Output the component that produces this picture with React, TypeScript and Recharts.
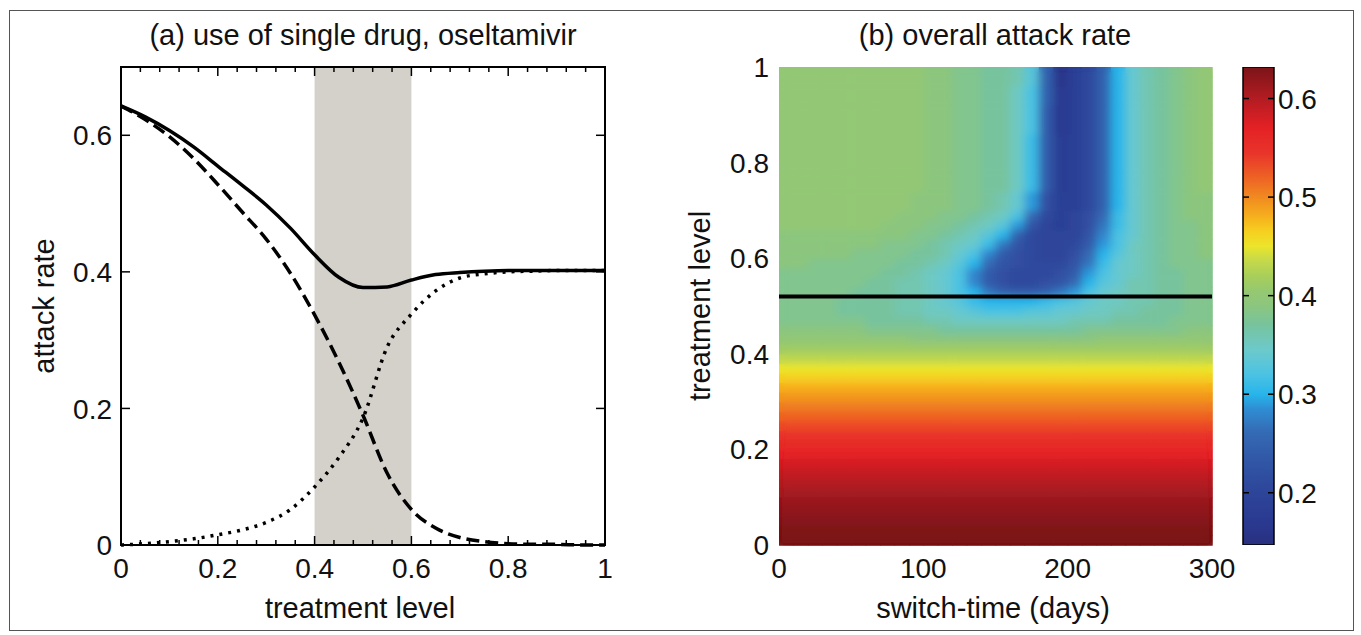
import React from "react";
import {
  ComposedChart,
  BarChart,
  Bar,
  Line,
  XAxis,
  YAxis,
  ReferenceArea,
  ScatterChart,
  Scatter,
} from "recharts";

// ---- panel (a): attack rate vs treatment level ----
const treatment = [0, 0.05, 0.1, 0.15, 0.2, 0.25, 0.3, 0.35, 0.4, 0.45, 0.5, 0.55, 0.6, 0.65, 0.7, 0.75, 0.8, 0.85, 0.9, 0.95, 1];
const totalAttack = [0.643, 0.627, 0.607, 0.583, 0.555, 0.527, 0.498, 0.464, 0.425, 0.392, 0.377, 0.378, 0.388, 0.396, 0.399, 0.401, 0.402, 0.402, 0.402, 0.402, 0.402];
const sensitiveAttack = [0.643, 0.623, 0.598, 0.566, 0.528, 0.488, 0.448, 0.398, 0.337, 0.268, 0.19, 0.105, 0.052, 0.025, 0.011, 0.005, 0.002, 0.001, 0.001, 0, 0];
const resistantAttack = [0, 0.002, 0.005, 0.009, 0.015, 0.022, 0.033, 0.052, 0.085, 0.128, 0.186, 0.29, 0.338, 0.372, 0.391, 0.397, 0.4, 0.401, 0.402, 0.402, 0.402];
const xTicksA = [0, 0.04, 0.08, 0.12, 0.16, 0.2, 0.24, 0.28, 0.32, 0.36, 0.4, 0.44, 0.48, 0.52, 0.56, 0.6, 0.64, 0.68, 0.72, 0.76, 0.8, 0.84, 0.88, 0.92, 0.96, 1];
const yTicksA = [0, 0.2, 0.4, 0.6];
const shadeFrom = 0.4;
const shadeTo = 0.6;

// ---- panel (b): overall attack rate heat map ----
const switchDays = [5, 15, 25, 35, 45, 55, 65, 75, 85, 95, 105, 115, 125, 135, 145, 155, 165, 175, 185, 195, 205, 215, 225, 235, 245, 255, 265, 275, 285, 295];
// lower rows do not depend on switch-time
const lowLevels = [0.01, 0.03, 0.05, 0.07, 0.09, 0.11, 0.13, 0.15, 0.17, 0.19, 0.21, 0.23, 0.25, 0.27, 0.29, 0.31, 0.33, 0.35, 0.37, 0.39, 0.41];
const lowRates = [0.632, 0.63, 0.626, 0.621, 0.615, 0.608, 0.6, 0.591, 0.581, 0.57, 0.558, 0.546, 0.533, 0.52, 0.507, 0.494, 0.481, 0.466, 0.45, 0.432, 0.414];
// upper rows, attack rate in hundredths, one entry per switch-time column
const highLevels = [0.43, 0.45, 0.47, 0.49, 0.51, 0.53, 0.55, 0.57, 0.59, 0.61, 0.63, 0.65, 0.67, 0.69, 0.71, 0.73, 0.75, 0.77, 0.79, 0.81, 0.83, 0.85, 0.87, 0.89, 0.91, 0.93, 0.95, 0.97, 0.99];
const highRates = [
  "40 40 40 40 40 40 40 40 40 39 39 39 39 39 39 39 39 39 39 39 39 39 40 40 40 40 40 40 40 40",
  "39 39 39 39 39 39 38 38 38 38 38 37 37 37 37 37 37 37 37 37 37 38 38 38 38 38 38 38 39 39",
  "38 38 38 38 38 38 37 37 37 37 36 36 35 35 35 35 35 35 35 35 36 36 36 37 37 37 37 38 38 38",
  "38 38 38 38 37 37 37 37 36 36 35 35 34 33 32 32 32 33 33 34 34 35 35 36 36 37 37 37 38 38",
  "38 38 38 38 37 37 37 37 36 36 35 34 33 31 30 30 30 30 31 32 33 34 35 35 36 36 37 37 38 38",
  "38 38 38 38 38 37 37 37 36 36 35 34 32 30 27 25 24 24 25 27 29 32 34 35 36 36 37 37 38 38",
  "38 38 38 38 38 38 37 37 36 36 35 34 32 28 24 22 21 21 22 23 26 30 33 34 36 36 37 37 38 38",
  "38 38 38 38 38 38 38 37 37 36 35 34 32 28 24 22 21 21 21 22 24 29 32 34 35 36 37 37 38 38",
  "39 39 38 38 38 38 38 38 37 37 36 35 33 30 26 23 22 21 21 21 23 27 31 34 35 36 37 38 38 38",
  "39 39 39 39 39 38 38 38 38 37 37 36 34 32 28 24 22 21 20 20 22 26 30 33 35 36 37 38 38 39",
  "39 39 39 39 39 39 39 38 38 38 37 36 35 34 31 27 23 21 20 20 21 24 29 32 35 36 37 38 38 39",
  "39 39 39 39 39 39 39 39 39 38 38 37 36 35 33 30 25 21 20 20 20 23 28 32 34 36 37 38 38 39",
  "40 40 40 40 40 40 40 39 39 39 38 38 37 36 35 33 29 23 20 19 20 22 27 31 34 36 37 38 38 39",
  "40 40 40 40 40 40 40 40 39 39 39 38 38 37 36 35 32 26 21 19 20 22 26 31 34 36 37 38 39 39",
  "40 40 40 40 40 40 40 40 40 39 39 39 38 38 37 36 34 29 22 19 19 21 25 30 34 36 37 38 39 39",
  "40 40 40 40 40 40 40 40 40 39 39 39 38 38 37 36 34 29 22 19 19 21 25 30 34 36 37 38 39 39",
  "40 40 40 40 40 40 40 40 40 40 39 39 38 38 37 37 35 31 24 18 19 21 25 30 34 36 37 38 39 40",
  "40 40 40 40 40 40 40 40 40 40 39 39 38 38 37 37 35 31 24 18 19 21 25 30 34 36 37 38 39 40",
  "40 40 40 40 40 40 40 40 40 40 39 39 38 38 37 37 35 31 24 18 19 21 25 30 34 36 37 38 39 40",
  "40 40 40 40 40 40 40 40 40 40 39 39 38 38 37 37 35 31 24 18 19 21 25 30 34 36 37 38 39 40",
  "40 40 40 40 40 40 40 40 40 40 39 39 38 38 37 37 35 31 24 18 19 21 25 30 34 36 37 38 39 40",
  "40 40 40 40 40 40 40 40 40 40 39 39 38 38 37 37 35 31 24 18 19 21 25 30 34 36 37 38 39 40",
  "40 40 40 40 40 40 40 40 40 40 39 39 38 38 37 37 35 32 24 17 19 21 25 30 34 36 37 38 39 40",
  "40 40 40 40 40 40 40 40 40 40 39 39 38 38 37 37 35 32 24 17 19 21 25 30 34 36 37 38 39 40",
  "40 40 40 40 40 40 40 40 40 40 39 39 38 38 37 37 35 32 24 17 19 21 25 30 34 36 37 38 39 40",
  "40 40 40 40 40 40 40 40 40 40 39 39 38 38 37 37 35 32 25 17 19 21 25 30 34 36 37 38 39 40",
  "40 40 40 40 40 40 40 40 40 40 39 39 38 38 37 37 35 32 25 17 19 21 25 30 34 36 37 38 39 40",
  "40 40 40 40 40 40 40 40 40 40 39 39 38 38 37 37 36 33 25 16 19 21 25 30 34 36 37 38 39 40",
  "40 40 40 40 40 40 40 40 40 40 39 39 38 38 37 37 36 33 25 16 19 21 25 30 34 36 37 38 39 40",
];
const xTicksB = [0, 100, 200, 300];
const yTicksB = [0, 0.2, 0.4, 0.6, 0.8, 1];
const switchLevel = 0.52;

// colour bar
const colorMin = 0.147;
const colorMax = 0.632;
const colorTicks = [0.2, 0.3, 0.4, 0.5, 0.6];
const cmapStops = [0.147, 0.17, 0.2, 0.23, 0.26, 0.285, 0.3, 0.32, 0.345, 0.37, 0.39, 0.405, 0.42, 0.437, 0.45, 0.465, 0.48, 0.5, 0.52, 0.545, 0.57, 0.6, 0.632];
const cmapColors = ["#29307f", "#2a3990", "#2d4599", "#3155a5", "#3469b3", "#2f8dd3", "#27b5ea", "#4cc2e3", "#6ccacb", "#77c39e", "#8cc67e", "#96c870", "#a8cf5a", "#c8da48", "#ebe52b", "#f5d020", "#f6b01d", "#f08a20", "#ee6224", "#e8342a", "#e42125", "#b21c22", "#7b1418"];

const FONT = "'Liberation Sans', Arial, Helvetica, sans-serif";
const A = { left: 121, right: 605, top: 67, bottom: 545 };
const B = { left: 779, right: 1212, top: 67, bottom: 545 };
const CB = { left: 43, right: 74 };

const lineData = treatment.map((t, i) => ({
  t,
  total: totalAttack[i],
  sensitive: sensitiveAttack[i],
  resistant: resistantAttack[i],
}));

const heatCells: { x: number; y: number; v: number }[] = [];
lowLevels.forEach((lvl, i) => {
  switchDays.forEach((d) => heatCells.push({ x: d, y: lvl, v: lowRates[i] }));
});
highLevels.forEach((lvl, i) => {
  highRates[i].split(" ").forEach((s, j) => heatCells.push({ x: switchDays[j], y: lvl, v: Number(s) / 100 }));
});

const switchLine = [
  { x: 0, y: switchLevel },
  { x: 300, y: switchLevel },
];
const colorBarData = [{ k: "cb", range: [colorMin, colorMax] }];

const hexToRgb = (h: string) => [1, 3, 5].map((k) => parseInt(h.slice(k, k + 2), 16));
const cmapRgb = cmapColors.map(hexToRgb);

function colorOf(v: number) {
  if (v <= cmapStops[0]) return cmapColors[0];
  for (let i = 1; i < cmapStops.length; i++) {
    if (v <= cmapStops[i]) {
      const f = (v - cmapStops[i - 1]) / (cmapStops[i] - cmapStops[i - 1]);
      const a = cmapRgb[i - 1];
      const b = cmapRgb[i];
      const c = a.map((ch, k) => Math.round(ch + (b[k] - ch) * f));
      return `rgb(${c[0]},${c[1]},${c[2]})`;
    }
  }
  return cmapColors[cmapColors.length - 1];
}

const cellW = (B.right - B.left) / switchDays.length;
const cellH = (B.bottom - B.top) / (lowLevels.length + highLevels.length);

const HeatCell = (props: any) => {
  const { cx, cy, payload } = props;
  return (
    <rect
      x={cx - cellW / 2}
      y={cy - cellH / 2}
      width={cellW + 0.6}
      height={cellH + 0.6}
      fill={colorOf(payload.v)}
    />
  );
};

const NoDot = () => <g />;

const fmt = (v: number) => (v === 0 ? "0" : v === 1 ? "1" : String(v));
const tickText = { fontSize: 28, fontFamily: FONT, fill: "#111" };

const XTickA = (props: any) => {
  const { x, y, payload } = props;
  const v = payload.value;
  const major = Math.abs(v * 5 - Math.round(v * 5)) < 1e-6;
  const len = major ? 9 : 5;
  return (
    <g>
      <line x1={x} x2={x} y1={A.bottom} y2={A.bottom - len} stroke="#000" strokeWidth={1.5} />
      <line x1={x} x2={x} y1={A.top} y2={A.top + len} stroke="#000" strokeWidth={1.5} />
      {major && (
        <text x={x} y={y} dy="0.71em" textAnchor="middle" {...tickText}>
          {fmt(v)}
        </text>
      )}
    </g>
  );
};

const YTickA = (props: any) => {
  const { x, y, payload } = props;
  return (
    <g>
      <line x1={A.left} x2={A.left + 9} y1={y} y2={y} stroke="#000" strokeWidth={1.5} />
      <line x1={A.right} x2={A.right - 9} y1={y} y2={y} stroke="#000" strokeWidth={1.5} />
      <text x={x} y={y} dy="0.36em" textAnchor="end" {...tickText}>
        {fmt(payload.value)}
      </text>
    </g>
  );
};

const XTickB = (props: any) => {
  const { x, y, payload } = props;
  return (
    <text x={x} y={y} dy="0.71em" textAnchor="middle" {...tickText}>
      {payload.value}
    </text>
  );
};

const YTickB = (props: any) => {
  const { x, y, payload } = props;
  return (
    <text x={x} y={y} dy="0.36em" textAnchor="end" {...tickText}>
      {fmt(payload.value)}
    </text>
  );
};

const CbTick = (props: any) => {
  const { x, y, payload } = props;
  return (
    <g>
      <line x1={CB.left} x2={CB.left + 6} y1={y} y2={y} stroke="#000" strokeWidth={1.5} />
      <line x1={CB.right} x2={CB.right - 6} y1={y} y2={y} stroke="#000" strokeWidth={1.5} />
      <text x={x} y={y} dy="0.36em" textAnchor="start" {...tickText}>
        {payload.value.toFixed(1)}
      </text>
    </g>
  );
};

const label = (left: number, top: number, text: string, rotate = false) => (
  <div
    style={{
      position: "absolute",
      left,
      top,
      fontSize: 29,
      fontFamily: FONT,
      color: "#111",
      whiteSpace: "nowrap",
      lineHeight: 1,
      transform: `translate(-50%, -50%)${rotate ? " rotate(-90deg)" : ""}`,
    }}
  >
    {text}
  </div>
);

export default function App() {
  return (
    <div style={{ position: "absolute", left: 0, top: 0, width: 1361, height: 635, background: "#fff", overflow: "hidden" }}>
      <style>{`.heat { filter: url(#heatBlur); }`}</style>
      <svg width={0} height={0} style={{ position: "absolute" }}>
        <defs>
          {/* smooth the cell grid like the shaded image, keeping the edges crisp */}
          <filter id="heatBlur" x="0" y="0" width="1" height="1">
            <feGaussianBlur in="SourceGraphic" stdDeviation="5 3.5" result="soft" />
            <feMerge>
              <feMergeNode in="SourceGraphic" />
              <feMergeNode in="soft" />
            </feMerge>
          </filter>
          <linearGradient id="cbar" x1="0" y1="1" x2="0" y2="0">
            {cmapStops.map((s, i) => (
              <stop key={i} offset={(s - colorMin) / (colorMax - colorMin)} stopColor={cmapColors[i]} />
            ))}
          </linearGradient>
        </defs>
      </svg>

      <div
        style={{
          position: "absolute",
          left: 9,
          top: 10,
          width: 1345,
          height: 621,
          border: "1.5px solid #555",
          boxSizing: "border-box",
        }}
      />

      {/* (a) */}
      <div style={{ position: "absolute", left: 0, top: 0 }}>
        <ComposedChart width={680} height={635} data={lineData} margin={{ top: 67, right: 75, bottom: 50, left: 71 }}>
          <ReferenceArea x1={shadeFrom} x2={shadeTo} y1={0} y2={0.7} fill="#d4d1ca" fillOpacity={1} stroke="none" />
          <XAxis
            dataKey="t"
            type="number"
            domain={[0, 1]}
            ticks={xTicksA}
            interval={0}
            height={40}
            tickSize={0}
            tickMargin={13}
            axisLine={false}
            tickLine={false}
            tick={<XTickA />}
          />
          <YAxis
            type="number"
            domain={[0, 0.7]}
            ticks={yTicksA}
            width={50}
            tickSize={0}
            tickMargin={9}
            axisLine={false}
            tickLine={false}
            tick={<YTickA />}
          />
          <Line type="monotone" dataKey="resistant" stroke="#000" strokeWidth={3.5} strokeDasharray="3 6" dot={false} isAnimationActive={false} />
          <Line type="monotone" dataKey="sensitive" stroke="#000" strokeWidth={3.5} strokeDasharray="13 6" dot={false} isAnimationActive={false} />
          <Line type="monotone" dataKey="total" stroke="#000" strokeWidth={3.5} dot={false} isAnimationActive={false} />
          <ReferenceArea x1={0} x2={1} y1={0} y2={0.7} fill="none" stroke="#000" strokeWidth={2} />
        </ComposedChart>
      </div>

      {/* (b) */}
      <div style={{ position: "absolute", left: 680, top: 0 }}>
        <ScatterChart width={681} height={635} margin={{ top: 67, right: 149, bottom: 50, left: 39 }}>
          <XAxis
            dataKey="x"
            type="number"
            domain={[0, 300]}
            ticks={xTicksB}
            interval={0}
            height={40}
            tickSize={0}
            tickMargin={13}
            axisLine={false}
            tickLine={false}
            tick={<XTickB />}
          />
          <YAxis
            dataKey="y"
            type="number"
            domain={[0, 1]}
            ticks={yTicksB}
            width={60}
            tickSize={0}
            tickMargin={10}
            axisLine={false}
            tickLine={false}
            tick={<YTickB />}
          />
          <Scatter className="heat" data={heatCells} shape={<HeatCell />} isAnimationActive={false} />
          <Scatter data={switchLine} shape={<NoDot />} line={{ stroke: "#000", strokeWidth: 4 }} isAnimationActive={false} />
        </ScatterChart>
      </div>

      {/* colour bar */}
      <div style={{ position: "absolute", left: 1200, top: 0 }}>
        <BarChart
          width={161}
          height={635}
          data={colorBarData}
          barCategoryGap={0}
          margin={{ top: 67, right: 27, bottom: 90, left: 43 }}
        >
          <XAxis dataKey="k" hide height={0} />
          <YAxis
            orientation="right"
            type="number"
            domain={[colorMin, colorMax]}
            ticks={colorTicks}
            width={60}
            tickSize={0}
            tickMargin={4}
            axisLine={false}
            tickLine={false}
            tick={<CbTick />}
            allowDataOverflow
          />
          <Bar dataKey="range" fill="url(#cbar)" stroke="#000" strokeWidth={1.5} isAnimationActive={false} />
        </BarChart>
      </div>

      {label(363, 35, "(a) use of single drug, oseltamivir")}
      {label(995, 35, "(b) overall attack rate")}
      {label(44, 306, "attack rate", true)}
      {label(700, 306, "treatment level", true)}
      {label(360, 608, "treatment level")}
      {label(993, 608, "switch-time (days)")}
    </div>
  );
}
